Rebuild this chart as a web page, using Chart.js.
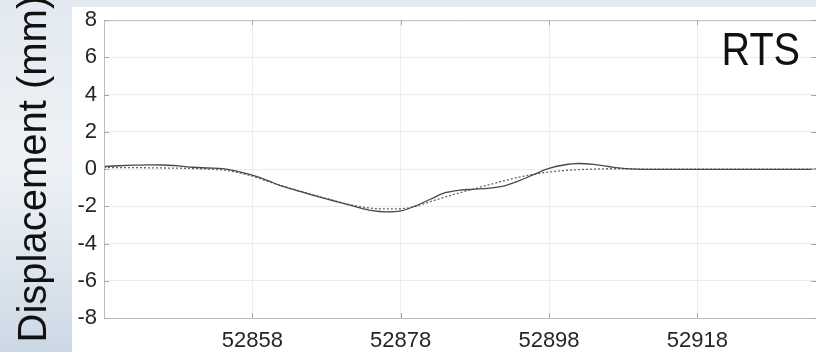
<!DOCTYPE html>
<html><head><meta charset="utf-8">
<script src="https://cdn.jsdelivr.net/npm/chart.js@4"></script>
<style>html,body{margin:0;padding:0;background:#fff;overflow:hidden}canvas{display:block}</style>
</head><body>
<canvas id="c" width="816" height="352"></canvas>
<script>
const xValues = [52838,52840,52842,52844,52846,52848,52850,52852,52854,52856,52858,52860,52862,52864,52866,52868,52870,52872,52874,52876,52878,52880,52882,52884,52886,52888,52890,52892,52894,52896,52898,52900,52902,52904,52906,52908,52910,52912,52914,52916,52918,52920,52922,52924,52926,52928,52930,52932,52934];
const measured = [0.14,0.18,0.21,0.23,0.22,0.17,0.10,0.06,0.02,-0.12,-0.33,-0.60,-0.92,-1.15,-1.38,-1.60,-1.82,-2.03,-2.22,-2.30,-2.25,-1.98,-1.62,-1.27,-1.13,-1.08,-1.02,-0.90,-0.62,-0.28,0.04,0.22,0.30,0.25,0.14,0.04,0.00,-0.01,-0.01,-0.01,-0.01,-0.01,-0.01,-0.01,-0.01,-0.01,-0.01,-0.01,-0.01];
const model = [0.08,0.08,0.08,0.07,0.06,0.05,0.03,0.00,-0.05,-0.18,-0.38,-0.65,-0.90,-1.13,-1.36,-1.58,-1.80,-1.98,-2.10,-2.14,-2.13,-2.00,-1.75,-1.50,-1.27,-1.05,-0.83,-0.62,-0.43,-0.28,-0.16,-0.08,-0.03,0.00,0.02,0.02,0.00,0.00,0.00,0.00,0.00,0.00,0.00,0.00,0.00,0.00,0.00,0.00,0.00];
const xTicks = [52858,52878,52898,52918];
const yTicks = [-8,-6,-4,-2,0,2,4,6,8];
const yTitle = 'Displacement (mm)';
const panelLabel = 'RTS';

const bgPlugin = {
  id: 'bg',
  beforeDraw(chart) {
    const ctx = chart.ctx, W = chart.width, H = chart.height;
    ctx.save();
    const g = ctx.createLinearGradient(0, 0, 0, H);
    g.addColorStop(0, '#e2e9f0');
    g.addColorStop(0.45, '#eef2f6');
    g.addColorStop(0.75, '#dde6ee');
    g.addColorStop(1, '#cbd8e4');
    ctx.fillStyle = g;
    ctx.fillRect(0, 0, W, H);
    ctx.fillStyle = '#ffffff';
    ctx.fillRect(72, 7, W - 72, H - 7);
    ctx.restore();
  }
};

const framePlugin = {
  id: 'frame',
  afterDatasetsDraw(chart) {
    const ctx = chart.ctx, a = chart.chartArea;
    const xs = chart.scales.x, ys = chart.scales.y;
    ctx.save();
    ctx.strokeStyle = '#bdbdbd';
    ctx.lineWidth = 1;
    ctx.beginPath();
    ctx.moveTo(a.right + 2, a.top + 0.5);
    ctx.lineTo(a.left + 0.5, a.top + 0.5);
    ctx.lineTo(a.left + 0.5, a.bottom + 0.5);
    ctx.lineTo(a.right + 2, a.bottom + 0.5);
    ctx.stroke();
    ctx.strokeStyle = '#a8a8a8';
    ctx.beginPath();
    xTicks.forEach(v => {
      const px = Math.round(xs.getPixelForValue(v)) + 0.5;
      ctx.moveTo(px, a.bottom); ctx.lineTo(px, a.bottom - 5);
      ctx.moveTo(px, a.top); ctx.lineTo(px, a.top + 5);
    });
    yTicks.forEach(v => {
      const py = Math.round(ys.getPixelForValue(v)) + 0.5;
      ctx.moveTo(a.left, py); ctx.lineTo(a.left + 5, py);
      ctx.moveTo(a.right, py); ctx.lineTo(a.right - 5, py);
    });
    ctx.stroke();
    ctx.restore();
  },
  afterDraw(chart) {
    const ctx = chart.ctx;
    ctx.save();
    ctx.fillStyle = '#111111';
    ctx.font = '46px "Liberation Sans", Arial, sans-serif';
    ctx.textAlign = 'right';
    ctx.textBaseline = 'alphabetic';
    ctx.translate(800, 65);
    ctx.scale(0.86, 1);
    ctx.fillText(panelLabel, 0, 0);
    ctx.restore();
  }
};

new Chart(document.getElementById('c'), {
  type: 'line',
  data: {
    datasets: [
      {
        label: 'measured',
        data: xValues.map((x, i) => ({x, y: measured[i]})),
        borderColor: '#484848', borderWidth: 1.3, pointRadius: 0,
        cubicInterpolationMode: 'monotone', fill: false
      },
      {
        label: 'model',
        data: xValues.map((x, i) => ({x, y: model[i]})),
        borderColor: '#666666', borderWidth: 1.3, borderDash: [2, 2], pointRadius: 0,
        cubicInterpolationMode: 'monotone', fill: false
      }
    ]
  },
  options: {
    responsive: false, animation: false, devicePixelRatio: 1,
    layout: {padding: {left: 0, right: 0, top: 16, bottom: 0}},
    plugins: {legend: {display: false}, tooltip: {enabled: false}},
    scales: {
      x: {
        type: 'linear', min: 52838, max: 52934,
        afterBuildTicks: s => { s.ticks = xTicks.map(v => ({value: v})); },
        afterFit: s => { s.height = 34; },
        grid: {color: '#ececec', drawTicks: false},
        border: {display: false},
        ticks: {font: {family: '"Liberation Sans", Arial, sans-serif', size: 22}, color: '#262626', padding: 10, maxRotation: 0, autoSkip: false, callback: v => String(v)}
      },
      y: {
        min: -8, max: 8,
        afterBuildTicks: s => { s.ticks = yTicks.map(v => ({value: v})); },
        afterFit: s => { s.width = 104; },
        grid: {color: '#ececec', drawTicks: false},
        border: {display: false},
        ticks: {font: {family: '"Liberation Sans", Arial, sans-serif', size: 22}, color: '#262626', padding: 7, autoSkip: false},
        title: {display: true, text: yTitle, color: '#111111', font: {family: '"Liberation Sans", Arial, sans-serif', size: 40}, padding: {top: 11, bottom: 0}}
      }
    }
  },
  plugins: [bgPlugin, framePlugin]
});
</script>
</body></html>
